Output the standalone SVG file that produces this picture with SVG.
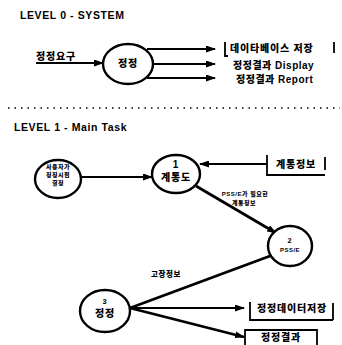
<svg xmlns="http://www.w3.org/2000/svg" width="342" height="345" viewBox="0 0 342 345">
<style>
text{font-family:"Liberation Sans","Noto Sans CJK KR",sans-serif;font-weight:900;fill:#000}
.t{font-size:10.5px;letter-spacing:0.6px}
.m{font-size:10px;letter-spacing:0.8px}
.s{font-size:7.5px;letter-spacing:0.6px}
.xs{font-size:6px;letter-spacing:0.5px}
.c{text-anchor:middle}
.node{fill:#fff;stroke:#000;stroke-width:2.4}
.ln{fill:none;stroke:#000;stroke-width:2.2}
.w{fill:none;stroke:#000;stroke-width:2.8}
.st{fill:none;stroke:#000;stroke-width:1.8}
</style>
<defs>
<marker id="ah" markerWidth="10" markerHeight="7" refX="9" refY="3.5" orient="auto" markerUnits="userSpaceOnUse">
<path d="M0,0 L10,3.5 L0,7 z" fill="#000"/>
</marker>
</defs>
<rect width="342" height="345" fill="#fff"/>
<text class="t" x="20" y="19">LEVEL 0 - SYSTEM</text>
<line x1="8" y1="108" x2="340" y2="108" stroke="#000" stroke-width="1.5" stroke-dasharray="1.5,5"/>
<text class="t" x="14" y="131">LEVEL 1 - Main Task</text>

<g id="connectors">
<line class="ln" x1="36" y1="63" x2="103" y2="63" marker-end="url(#ah)"/>
<line class="ln" x1="147" y1="49" x2="215" y2="49" marker-end="url(#ah)"/>
<line class="ln" x1="153" y1="64" x2="215" y2="64" marker-end="url(#ah)"/>
<line class="ln" x1="147" y1="78" x2="215" y2="78" marker-end="url(#ah)"/>
<line class="ln" x1="81" y1="177" x2="152" y2="177" marker-end="url(#ah)"/>
<line class="ln" x1="267" y1="164" x2="200" y2="164" marker-end="url(#ah)"/>
<line class="w" x1="196" y1="186" x2="276" y2="233" marker-end="url(#ah)"/>
<line class="w" x1="270" y1="256" x2="130" y2="308"/>
<line class="ln" x1="130" y1="308" x2="244" y2="308" marker-end="url(#ah)"/>
<line class="w" x1="130" y1="308" x2="244" y2="337" marker-end="url(#ah)"/>
</g>
<text class="xs" x="245" y="196" text-anchor="middle">PSS/E가 필요한</text>
<text class="xs" x="244" y="205" text-anchor="middle">계통정보</text>
<text class="s" x="166" y="277" text-anchor="middle">고장정보</text>

<g id="input0"><text class="m" x="36" y="60">정정요구</text></g>
<g id="p0"><ellipse class="node" cx="128" cy="64" rx="25" ry="20"/><text class="m c" x="128" y="67">정정</text></g>
<g id="s0db"><path class="st" d="M225,42 V56 H228 M334,42 V53"/><text class="m" x="230" y="52">데이타베이스 저장</text></g>
<g id="o0disp"><text class="m" x="233" y="69" style="letter-spacing:0.5px">정정결과 Display</text></g>
<g id="o0rep"><text class="m" x="236" y="83" style="letter-spacing:0.5px">정정결과 Report</text></g>

<g id="ext"><ellipse class="node" cx="58" cy="179" rx="23" ry="19"/>
<text class="xs c" x="58" y="169">사용자가</text><text class="xs c" x="58" y="177">정정시점</text><text class="xs c" x="58" y="185">결정</text></g>
<g id="p1"><ellipse class="node" cx="176" cy="174" rx="24" ry="19"/><text class="m c" x="176" y="168">1</text><text class="m c" x="176" y="181">계통도</text></g>
<g id="s1"><path class="st" d="M267,155 V175 H325 M325,157 V170"/><text class="m c" x="296" y="168">계통정보</text></g>
<g id="p2"><ellipse class="node" cx="290" cy="246" rx="22" ry="20"/><text class="s c" x="290" y="243">2</text><text class="xs c" x="290" y="252">PSS/E</text></g>
<g id="p3"><ellipse class="node" cx="105" cy="311" rx="25" ry="21"/><text class="s c" x="105" y="304">3</text><text class="m c" x="105" y="317">정정</text></g>
<g id="s3"><path class="st" d="M250,302 V320 H333 M333,303 V320"/><text class="m c" x="292" y="312">정정데이터저장</text></g>
<g id="o3"><path class="st" d="M245,346 V330 H317 V346"/><text class="m c" x="281" y="341">정정결과</text></g>
</svg>
